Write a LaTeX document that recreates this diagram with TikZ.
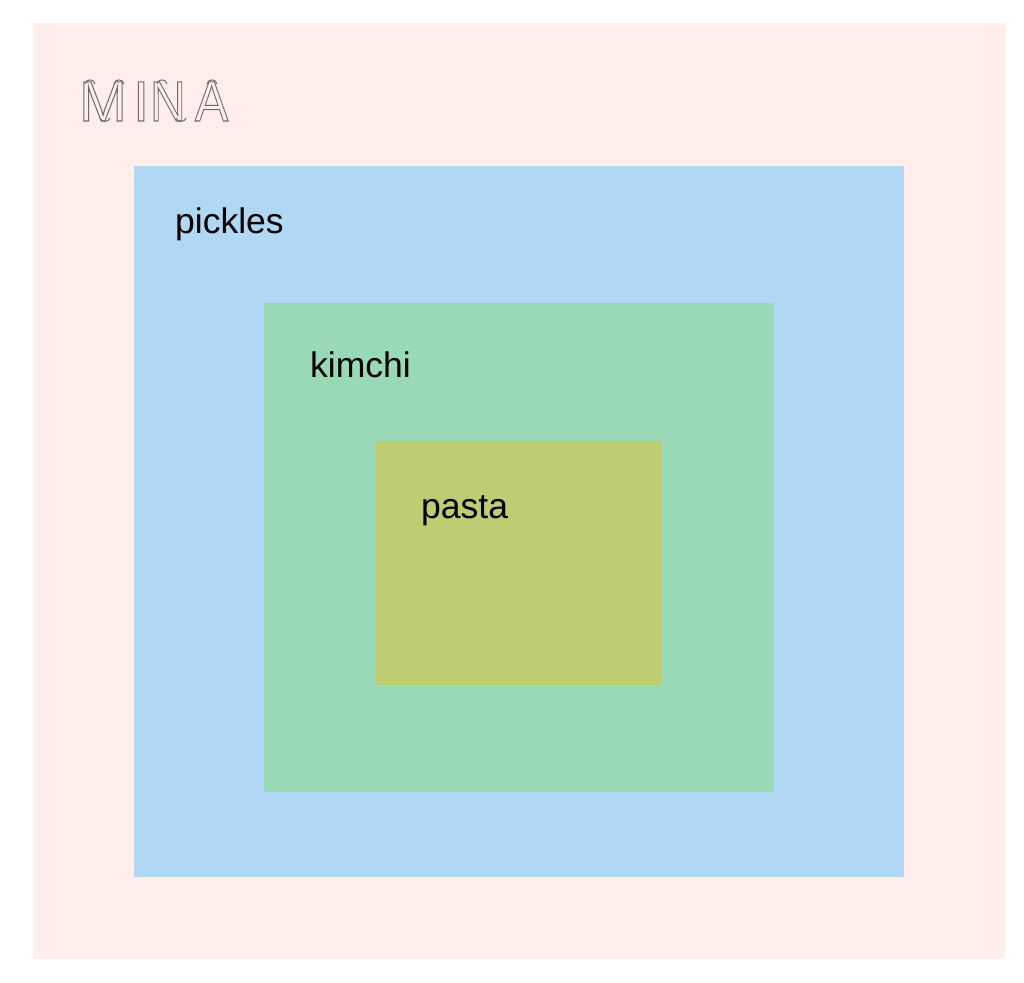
\documentclass[tikz,border=0pt]{standalone}
\usepackage{fontspec}
\setmainfont{Liberation Sans}
\definecolor{bgpink}{HTML}{FFEEEB}
\definecolor{pickblue}{HTML}{B0D7F3}
\definecolor{kimgreen}{HTML}{99D9B5}
\definecolor{pastaol}{HTML}{BECC72}
\definecolor{logogray}{HTML}{6A6A6A}
\tikzset{
  box/.style={draw=none,inner sep=0pt,anchor=north west},
  lab/.style={inner sep=0pt,anchor=base west,text=black,font=\fontsize{35.5}{35.5}\selectfont},
  logo/.style={inner sep=0pt,anchor=base west,text=logogray,font=\fontsize{57}{57}\selectfont},
  hump/.style={draw=logogray,line width=1pt}
}
\newcommand{\outl}[1]{\special{pdf:code q 1 Tr 1 w}#1\special{pdf:code Q}}
\begin{document}
\begin{tikzpicture}[x=1pt,y=-1pt]
\useasboundingbox (0,0) rectangle (1024,982);
\fill[white] (0,0) rectangle (1024,982);
\node[box,fill=bgpink,minimum width=972pt,minimum height=936pt] (outer) at (33,23) {};
\node[box,fill=pickblue,minimum width=770pt,minimum height=711pt] (pickles) at (134,166) {};
\node[box,fill=kimgreen,minimum width=510pt,minimum height=489pt] (kimchi) at (264,303) {};
\node[box,fill=pastaol,minimum width=287pt,minimum height=244pt] (pasta) at (375,441) {};
\node[lab] (tp) at (175,233) {pickles};
\node[lab] (tk) at (310,377) {kimchi};
\node[lab] (ta) at (421,518) {pasta};
\node[logo] (mina) at (79,121) {\outl{M}\kern6.5pt\outl{I}\kern1pt\scalebox{0.87}[1]{\outl{N}}\kern9pt\scalebox{0.88}[1]{\outl{A}}};
% rounded turns of the logo's strokes
\draw[hump] (85,84) .. controls (86,78.5) and (94,78.5) .. (95,84);
\draw[hump] (114,84) .. controls (115,78.5) and (123,78.5) .. (124,84);
\draw[hump] (100,118) .. controls (101,122.5) and (109,122.5) .. (110,118);
\draw[hump] (157,84) .. controls (158,78.5) and (166,78.5) .. (167,84);
\draw[hump] (176,118) .. controls (177,122.5) and (185,122.5) .. (186,118);
\draw[hump] (207,84) .. controls (208,78.5) and (216,78.5) .. (217,84);
\end{tikzpicture}
\end{document}
